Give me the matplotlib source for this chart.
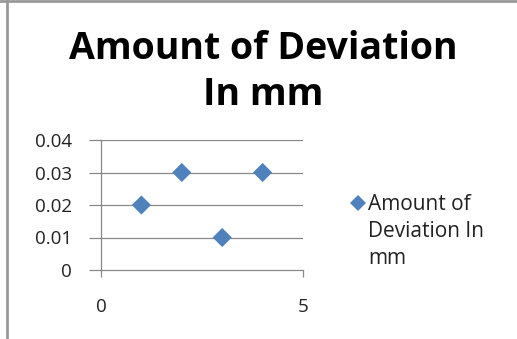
import matplotlib
matplotlib.use("Agg")
import matplotlib.pyplot as plt
from matplotlib.lines import Line2D

# ── data ─────────────────────────────────────────────────────────────────────
x_vals = [1, 2, 3, 4]
deviation_mm = [0.02, 0.03, 0.01, 0.03]
y_ticks = [0, 0.01, 0.02, 0.03, 0.04]
y_tick_labels = ["0", "0.01", "0.02", "0.03", "0.04"]
x_ticks = [0, 5]
title = "Amount of Deviation\nIn mm"
series_label = "Amount of\nDeviation In\nmm"

BLUE = "#4F81BD"
GRID = "#888888"
TEXT = "#222222"
FONT = "Open Sans"

plt.rcParams["font.family"] = FONT

fig = plt.figure(figsize=(5.17, 3.39), dpi=100)
ax = fig.add_axes([101 / 517, 1 - 270 / 339, 202 / 517, 130 / 339])

ax.scatter(x_vals, deviation_mm, marker="D", s=95, color=BLUE,
           edgecolors="none", zorder=3, clip_on=False)

ax.set_xlim(0, 5)
ax.set_ylim(0, 0.04)
ax.set_yticks(y_ticks)
ax.set_yticklabels(y_tick_labels)
ax.set_xticks(x_ticks)

for y in y_ticks[1:]:
    ax.axhline(y, color=GRID, lw=0.9, zorder=1)

for s in ("top", "right"):
    ax.spines[s].set_visible(False)
for s in ("left", "bottom"):
    ax.spines[s].set_color(GRID)
    ax.spines[s].set_linewidth(0.9)

ax.tick_params(axis="y", length=9, width=0.9, color=GRID, pad=12,
               labelsize=13.5, labelcolor=TEXT)
ax.tick_params(axis="x", length=5, width=0.9, color=GRID, pad=15,
               labelsize=13.5, labelcolor=TEXT)

fig.text(0.509, 1 - 72 / 339, title, ha="center", va="center", fontsize=27,
         fontweight="bold", linespacing=1.3, color="black")

# legend drawn by hand: Excel puts the marker beside the first text line
fig.add_artist(Line2D([358 / 517], [1 - 203 / 339], marker="D", ls="none",
                      color=BLUE, markersize=8, markeredgewidth=0,
                      transform=fig.transFigure))
fig.text(368 / 517, 1 - 194 / 339, series_label, ha="left", va="top",
         fontsize=15, linespacing=1.38, color=TEXT)

# chart border (top and left visible in the reference)
fig.add_artist(Line2D([7 / 517, 7 / 517], [0, 1], color="#999999", lw=2,
                      transform=fig.transFigure))
fig.add_artist(Line2D([0, 1], [1 - 1 / 339, 1 - 1 / 339], color="#999999",
                      lw=2, transform=fig.transFigure))

fig.savefig("out.png", dpi=100)
